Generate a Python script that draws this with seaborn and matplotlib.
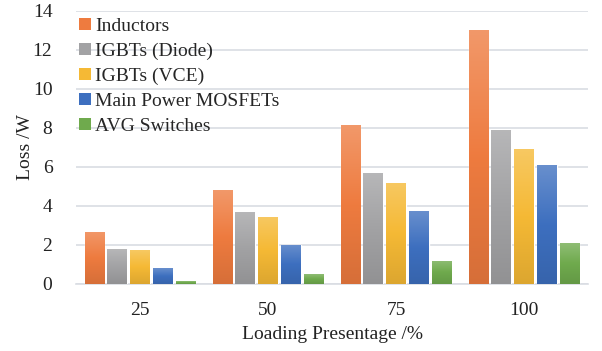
import numpy as np
import pandas as pd
import matplotlib
matplotlib.use("Agg")
import matplotlib.pyplot as plt
import matplotlib.colors as mcolors
from matplotlib.patches import Patch
import seaborn as sns

loading = ["25", "50", "75", "100"]
series = ["Inductors", "IGBTs (Diode)", "IGBTs (VCE)", "Main Power MOSFETs", "AVG Switches"]
inductors = [2.67, 4.82, 8.15, 13.03]
igbt_diode = [1.79, 3.69, 5.69, 7.90]
igbt_vce = [1.74, 3.44, 5.18, 6.92]
mosfets = [0.82, 2.00, 3.74, 6.10]
avg_switches = [0.15, 0.51, 1.18, 2.10]
colors = ["#EE7B3F", "#A2A2A4", "#F5B935", "#3D6FBF", "#6FAA4D"]
yticks = [0, 2, 4, 6, 8, 10, 12, 14]

values = [inductors, igbt_diode, igbt_vce, mosfets, avg_switches]
rows = []
for s, vals in zip(series, values):
    for c, v in zip(loading, vals):
        rows.append({"Loading": c, "Series": s, "Loss": v})
df = pd.DataFrame(rows)

sns.set_theme(style="white")
plt.rcParams["font.family"] = ["Liberation Serif", "DejaVu Serif"]

fig = plt.figure(figsize=(6.02, 3.51), dpi=100)
ax = fig.add_axes([76 / 602, 0.1909, (588 - 76) / 602, 0.9687 - 0.1909])

sns.barplot(data=df, x="Loading", y="Loss", hue="Series", order=loading,
            hue_order=series, palette=colors, width=0.89, gap=0.145,
            ax=ax, legend=False, saturation=1, zorder=3)

ax.set_ylim(0, 14)
ax.set_xlim(-0.5, 3.5)
ax.set_yticks(yticks)
ax.yaxis.grid(True, color="#D9DDE3", linewidth=1.2, zorder=0)
ax.set_axisbelow(True)
for sp in ["left", "right", "top"]:
    ax.spines[sp].set_visible(False)
ax.spines["bottom"].set_color("#D9DDE3")
ax.spines["bottom"].set_linewidth(1.2)
ax.tick_params(axis="both", length=0, labelsize=14, colors="#222222")
ax.tick_params(axis="y", pad=17)
ax.tick_params(axis="x", pad=13)
ax.set_xlabel("Loading Presentage /%", fontsize=14, color="#222222", labelpad=5)
ax.set_ylabel("Loss /W", fontsize=14, color="#222222", labelpad=-1)

# gradient fill for each bar
def grad_img(base):
    rgb = np.array(mcolors.to_rgb(base))
    light = rgb + (1 - rgb) * 0.22
    dark = rgb * 0.9
    n = 64
    t = np.linspace(0, 1, n)[:, None]  # 0 bottom -> 1 top
    img = np.where(t < 0.5,
                   dark + (rgb - dark) * (t / 0.5),
                   rgb + (light - rgb) * ((t - 0.5) / 0.5))
    return img[:, None, :]

for cont, col in zip(ax.containers, colors):
    img = grad_img(col)
    for bar in cont:
        x0, y0 = bar.get_x(), bar.get_y()
        w, h = bar.get_width(), bar.get_height()
        im = ax.imshow(img, extent=[x0, x0 + w, y0, y0 + h], origin="lower",
                       aspect="auto", zorder=4, interpolation="bilinear")
        im.set_clip_path(bar)
ax.set_xlim(-0.5, 3.5)
ax.set_ylim(0, 14)

handles = [Patch(facecolor=c, edgecolor="none") for c in colors]
ax.legend(handles, series, loc="upper left", bbox_to_anchor=(-0.002, 0.988),
          frameon=False, fontsize=14, handlelength=0.6, handleheight=0.6,
          handletextpad=0.25, labelspacing=0.395, borderaxespad=0.0,
          borderpad=0.2)

fig.savefig("out.png", dpi=100)
